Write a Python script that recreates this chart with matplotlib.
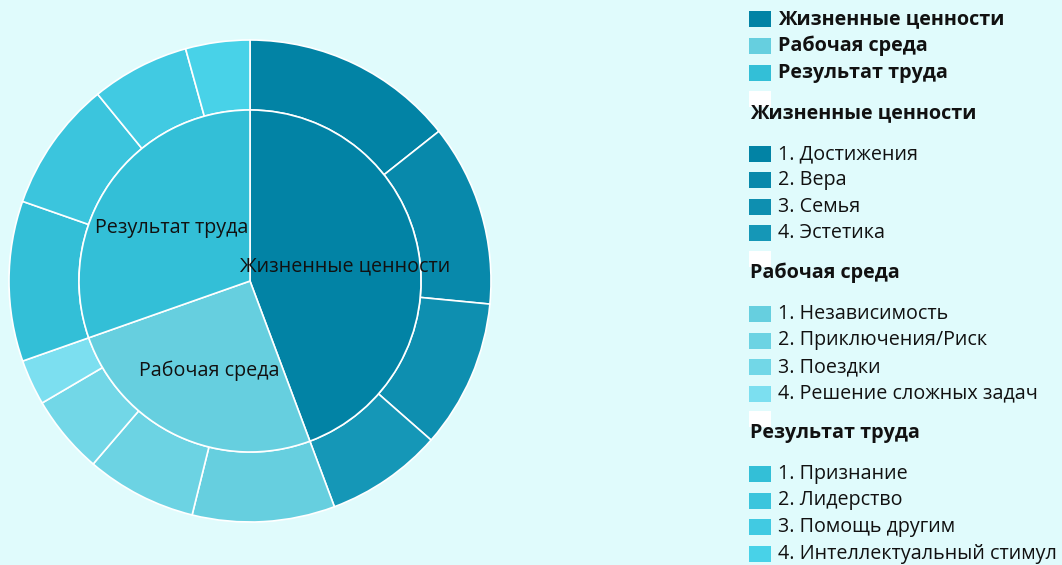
import numpy as np
import matplotlib

matplotlib.use("Agg")

import matplotlib.pyplot as plt
from matplotlib.patches import Rectangle

plt.rcParams["font.family"] = ["Open Sans", "DejaVu Sans"]

groups = ["Жизненные ценности", "Рабочая среда", "Результат труда"]
group_colors = ["#0283a5", "#66cfdf", "#33bfd7"]

life_labels = ["1. Достижения", "2. Вера", "3. Семья", "4. Эстетика"]
work_labels = ["1. Независимость", "2. Приключения/Риск", "3. Поездки", "4. Решение сложных задач"]
result_labels = ["1. Признание", "2. Лидерство", "3. Помощь другим", "4. Интеллектуальный стимул"]

life_values = [51.6, 43.9, 35.8, 28.2]
work_values = [34.4, 26.7, 19.0, 11.0]
result_values = [38.7, 31.5, 23.7, 15.5]

life_colors = ["#0283a5", "#0889ab", "#0e8fb0", "#1597b7"]
work_colors = ["#66cfdf", "#6cd3e3", "#72d7e7", "#7cdff0"]
result_colors = ["#33bfd7", "#3bc5dd", "#41cae2", "#48d2e8"]

sub_labels = [life_labels, work_labels, result_labels]
sub_values = [life_values, work_values, result_values]
sub_colors = [life_colors, work_colors, result_colors]

bg = "#e0fbfc"
W, H = 1062, 565
FS = 14.2
fig = plt.figure(figsize=(W / 100, H / 100), dpi=100, facecolor=bg)

# pie centre (250, 281) px, outer radius 241 px
ax = fig.add_axes([9 / W, (H - 281 - 241) / H, 482 / W, 482 / H])
ax.set_facecolor(bg)

inner_r = 171 / 241
group_totals = [sum(v) for v in sub_values]
outer_vals = life_values + work_values + result_values
outer_cols = life_colors + work_colors + result_colors

wedge_kw = dict(edgecolor="white", linewidth=1.2)
ax.pie(outer_vals, colors=outer_cols, radius=1.0, startangle=90, counterclock=False,
       wedgeprops=dict(width=1.0 - inner_r, **wedge_kw))
inner_wedges, _ = ax.pie(group_totals, colors=group_colors, radius=inner_r, startangle=90,
                         counterclock=False, wedgeprops=wedge_kw)

for w, name in zip(inner_wedges, groups):
    mid = np.deg2rad((w.theta1 + w.theta2) / 2)
    ax.text(0.4 * np.cos(mid), 0.4 * np.sin(mid) - 0.01, name, ha="center", va="center",
            fontsize=FS, color="#111111")

ax.set_xlim(-1, 1)
ax.set_ylim(-1, 1)
ax.set_aspect("equal")
ax.axis("off")


# legend drawn by hand in pixel coordinates
def add_patch(y, color):
    fig.add_artist(Rectangle((749 / W, 1 - (y + 8) / H), 22 / W, 16 / H,
                             transform=fig.transFigure, facecolor=color, edgecolor="none"))


def add_label(x, y, text, bold=False):
    fig.text(x / W, 1 - y / H, text, ha="left", va="center", fontsize=FS,
             fontweight="bold" if bold else "normal", color="#111111")


row_y = [19, 46, 73]
for y, name, c in zip(row_y, groups, group_colors):
    add_patch(y, c)
    add_label(778, y, name, bold=True)

section_start = [99, 259, 419]
for start, name, labels, cols in zip(section_start, groups, sub_labels, sub_colors):
    add_patch(start, "white")
    add_label(750, start + 14, name, bold=True)
    for i, (lab, c) in enumerate(zip(labels, cols)):
        y = start + 55 + i * 26.5
        add_patch(y, c)
        add_label(778, y, lab)

fig.savefig("out.png", dpi=100, facecolor=bg)
